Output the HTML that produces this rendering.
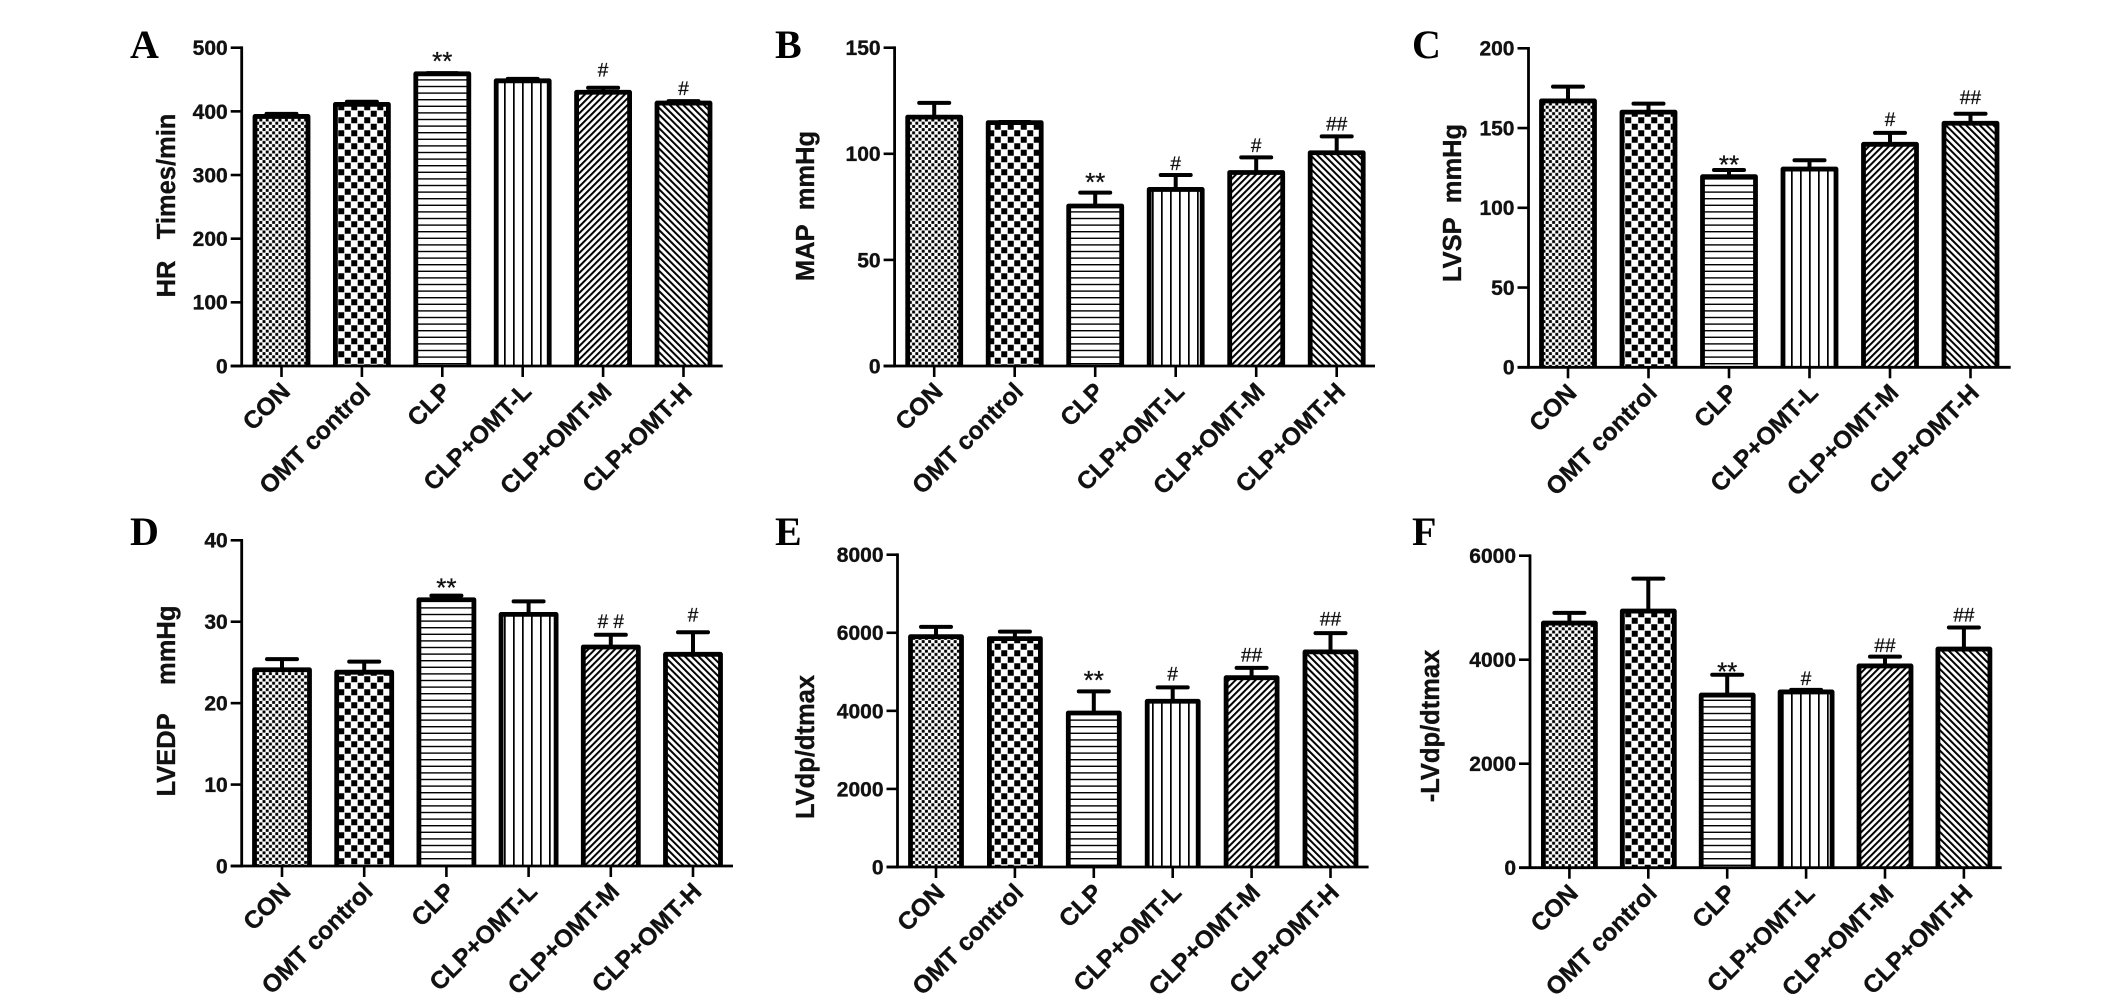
<!DOCTYPE html>
<html lang="en">
<head>
<meta charset="utf-8">
<title>Hemodynamic parameters panels A-F</title>
<style>
  html, body { margin: 0; padding: 0; background: #fff; }
  #figure { display: block; width: 2126px; height: 1008px; }
  .panel-letter { font-family: "Liberation Serif", serif; font-weight: bold; font-size: 40px; fill: #000; }
  .y-title { font-family: "Liberation Sans", sans-serif; font-weight: bold; font-size: 25.5px; fill: #111; stroke: #111; stroke-width: 0.35; text-anchor: middle; }
  .tick-label { font-family: "Liberation Sans", sans-serif; font-weight: bold; font-size: 21px; fill: #111; stroke: #111; stroke-width: 0.35; text-anchor: end; }
  .cat-label { font-family: "Liberation Sans", sans-serif; font-weight: bold; font-size: 24.6px; fill: #111; stroke: #111; stroke-width: 0.35; text-anchor: end; }
  .sig-hash { font-family: "Liberation Sans", sans-serif; font-size: 19px; fill: #111; stroke: #111; stroke-width: 0.3; text-anchor: middle; }
  .sig-star { font-family: "Liberation Sans", sans-serif; font-size: 26px; fill: #111; stroke: #111; stroke-width: 0.3; text-anchor: middle; }
</style>
</head>
<body>
<svg id="figure" xmlns="http://www.w3.org/2000/svg" width="2126" height="1008" viewBox="0 0 2126 1008">
  <rect width="2126" height="1008" fill="#fff"/>
  <defs>
    <pattern id="pat-0" patternUnits="userSpaceOnUse" width="6.4" height="6.4">
      <rect width="6.4" height="6.4" fill="#fff"/>
      <rect x="0.15" y="0.15" width="2.9" height="2.9" fill="#000"/>
      <rect x="3.35" y="3.35" width="2.9" height="2.9" fill="#000"/>
    </pattern>
    <pattern id="pat-1" patternUnits="userSpaceOnUse" width="13" height="13">
      <rect width="13" height="13" fill="#fff"/>
      <rect x="0.25" y="0.25" width="6" height="6" fill="#000"/>
      <rect x="6.75" y="6.75" width="6" height="6" fill="#000"/>
    </pattern>
    <pattern id="pat-2" patternUnits="userSpaceOnUse" width="10" height="6.6">
      <rect width="10" height="6.6" fill="#fff"/>
      <rect y="0" width="10" height="1.4" fill="#000"/>
    </pattern>
    <pattern id="pat-3" patternUnits="userSpaceOnUse" width="9" height="10">
      <rect width="9" height="10" fill="#fff"/>
      <rect x="0" width="1.7" height="10" fill="#000"/>
    </pattern>
    <pattern id="pat-4" patternUnits="userSpaceOnUse" width="4.7" height="10" patternTransform="rotate(45)">
      <rect width="4.7" height="10" fill="#fff"/>
      <rect width="2" height="10" fill="#000"/>
    </pattern>
    <pattern id="pat-5" patternUnits="userSpaceOnUse" width="4.8" height="10" patternTransform="rotate(-45)">
      <rect width="4.8" height="10" fill="#fff"/>
      <rect width="2" height="10" fill="#000"/>
    </pattern>
  </defs>

  <text class="panel-letter" x="130" y="58">A</text>
  <text class="panel-letter" x="775" y="58">B</text>
  <text class="panel-letter" x="1412" y="58">C</text>
  <text class="panel-letter" x="130" y="545">D</text>
  <text class="panel-letter" x="775" y="545">E</text>
  <text class="panel-letter" x="1412" y="545">F</text>

  <text class="y-title" transform="translate(175 205.5) rotate(-90)">HR&#160;&#160;&#160;Times/min</text>
  <text class="y-title" transform="translate(814 206) rotate(-90)">MAP&#160;&#160;mmHg</text>
  <text class="y-title" transform="translate(1461 203) rotate(-90)">LVSP&#160;&#160;mmHg</text>
  <text class="y-title" transform="translate(175 701) rotate(-90)">LVEDP&#160;&#160;&#160;&#160;mmHg</text>
  <text class="y-title" transform="translate(814 747) rotate(-90)">LVdp/dtmax</text>
  <text class="y-title" transform="translate(1439 726) rotate(-90)">-LVdp/dtmax</text>
</svg>

<script>
// ---- Data ----
const categories = ["CON", "OMT control", "CLP", "CLP+OMT-L", "CLP+OMT-M", "CLP+OMT-H"];

const hrTicks = ["0", "100", "200", "300", "400", "500"];
const hrValues = [392, 411, 459, 448, 430, 413];
const hrErrorTops = [396, 415, 460, 451, 437, 416];
const hrMarks = ["", "", "**", "", "#", "#"];
const hrMarkLevels = [0, 0, 485, 0, 465, 436];

const mapTicks = ["0", "50", "100", "150"];
const mapValues = [117.3, 114.7, 75.4, 83.2, 91.2, 100.5];
const mapErrorTops = [124, 115, 81.7, 90, 98.3, 108.2];
const mapMarks = ["", "", "**", "#", "#", "##"];
const mapMarkLevels = [0, 0, 88.7, 95.5, 103.8, 114];

const lvspTicks = ["0", "50", "100", "150", "200"];
const lvspValues = [167, 160, 119.5, 124.3, 139.8, 153];
const lvspErrorTops = [176, 165.3, 123.7, 129.8, 147, 159];
const lvspMarks = ["", "", "**", "", "#", "##"];
const lvspMarkLevels = [0, 0, 129.8, 0, 155.5, 169.3];

const lvedpTicks = ["0", "10", "20", "30", "40"];
const lvedpValues = [24.1, 23.8, 32.7, 30.9, 26.9, 26];
const lvedpErrorTops = [25.4, 25.1, 33.2, 32.5, 28.4, 28.7];
const lvedpMarks = ["", "", "**", "", "# #", "#"];
const lvedpMarkLevels = [0, 0, 34.7, 0, 30, 30.8];

const dpTicks = ["0", "2000", "4000", "6000", "8000"];
const dpValues = [5900, 5850, 3945, 4245, 4850, 5510];
const dpErrorTops = [6150, 6030, 4500, 4600, 5100, 5990];
const dpMarks = ["", "", "**", "#", "##", "##"];
const dpMarkLevels = [0, 0, 4897, 4949, 5436, 6350];

const negDpTicks = ["0", "2000", "4000", "6000"];
const negDpValues = [4705, 4935, 3320, 3380, 3880, 4205];
const negDpErrorTops = [4900, 5560, 3710, 3420, 4060, 4620];
const negDpMarks = ["", "", "**", "#", "##", "##"];
const negDpMarkLevels = [0, 0, 3853, 3641, 4269, 4859];

// ---- Panel frames (layout only) ----
const panels = [
  { key: "hr", ticks: hrTicks, values: hrValues, errs: hrErrorTops, marks: hrMarks, levels: hrMarkLevels,
    axisX: 241.7, zeroY: 366, topY: 47.7, endX: 722.7, firstX: 281.5, stepX: 80.4, barW: 53 },
  { key: "map", ticks: mapTicks, values: mapValues, errs: mapErrorTops, marks: mapMarks, levels: mapMarkLevels,
    axisX: 894.6, zeroY: 366, topY: 47.7, endX: 1375, firstX: 934.2, stepX: 80.5, barW: 53 },
  { key: "lvsp", ticks: lvspTicks, values: lvspValues, errs: lvspErrorTops, marks: lvspMarks, levels: lvspMarkLevels,
    axisX: 1528.5, zeroY: 367.3, topY: 48.3, endX: 2010.7, firstX: 1568, stepX: 80.5, barW: 53 },
  { key: "lvedp", ticks: lvedpTicks, values: lvedpValues, errs: lvedpErrorTops, marks: lvedpMarks, levels: lvedpMarkLevels,
    axisX: 241.7, zeroY: 866, topY: 540.3, endX: 733, firstX: 282, stepX: 82.2, barW: 55 },
  { key: "lvdp-dtmax", ticks: dpTicks, values: dpValues, errs: dpErrorTops, marks: dpMarks, levels: dpMarkLevels,
    axisX: 897.5, zeroY: 867, topY: 554.7, endX: 1368.6, firstX: 936, stepX: 78.9, barW: 51 },
  { key: "neg-lvdp-dtmax", ticks: negDpTicks, values: negDpValues, errs: negDpErrorTops, marks: negDpMarks, levels: negDpMarkLevels,
    axisX: 1530, zeroY: 867.7, topY: 555.7, endX: 2001.7, firstX: 1569.4, stepX: 78.9, barW: 52 }
];

const SVG_NS = "http://www.w3.org/2000/svg";
const figure = document.getElementById("figure");

function make(tag, attrs, parent) {
  const node = document.createElementNS(SVG_NS, tag);
  for (const k in attrs) node.setAttribute(k, attrs[k]);
  parent.appendChild(node);
  return node;
}

function slug(s) {
  return s.toLowerCase().replace(/[^a-z0-9]+/g, "-");
}

panels.forEach(function (p) {
  const maxTick = Number(p.ticks[p.ticks.length - 1]);
  const yScale = function (v) { return p.zeroY - (v / maxTick) * (p.zeroY - p.topY); };
  const xScale = function (i) { return p.firstX + i * p.stepX; };

  const group = make("g", {}, figure);
  
  

  // error bars (behind bars)
  p.values.forEach(function (v, i) {
    const cx = xScale(i);
    const yTop = yScale(p.errs[i]);
    const errGroup = make("g", {}, group);
    
    
    make("line", { x1: cx, x2: cx, y1: yScale(v), y2: yTop, stroke: "#000", "stroke-width": 4 }, errGroup);
    make("line", { x1: cx - 15, x2: cx + 15, y1: yTop, y2: yTop, stroke: "#000", "stroke-width": 4, "stroke-linecap": "round" }, errGroup);
  });

  // bars: patterned fill, then open outline with no bottom edge
  p.values.forEach(function (v, i) {
    const yTop = yScale(v);
    const left = xScale(i) - p.barW / 2;
    const right = left + p.barW;
    const barGroup = make("g", {}, group);
    
    
    make("rect", { x: left, y: yTop, width: p.barW, height: p.zeroY - yTop, fill: "url(#pat-" + i + ")" }, barGroup);
    make("path", {
      d: "M" + left + " " + p.zeroY + "V" + yTop + "H" + right + "V" + p.zeroY,
      fill: "none", stroke: "#000", "stroke-width": 4.8, "stroke-linejoin": "round"
    }, barGroup);
  });

  // y axis
  const yAxis = make("line", { x1: p.axisX, x2: p.axisX, y1: p.topY - 1.3, y2: p.zeroY + 1.3, stroke: "#000", "stroke-width": 2.8 }, group);
  
  

  p.ticks.forEach(function (label) {
    const ty = yScale(Number(label));
    const tick = make("line", { x1: p.axisX - 11, x2: p.axisX, y1: ty, y2: ty, stroke: "#000", "stroke-width": 2.6 }, group);
    
    
    const text = make("text", { class: "tick-label", x: p.axisX - 14, y: ty + 7.4 }, group);
    
    
    text.textContent = label;
  });

  // x axis
  const xAxis = make("line", { x1: p.axisX - 11, x2: p.endX, y1: p.zeroY, y2: p.zeroY, stroke: "#000", "stroke-width": 2.8 }, group);
  
  

  categories.forEach(function (name, i) {
    const cx = xScale(i);
    const tick = make("line", { x1: cx, x2: cx, y1: p.zeroY, y2: p.zeroY + 11, stroke: "#000", "stroke-width": 2.6 }, group);
    
    
    const ax = cx + 10;
    const ay = p.zeroY + 27;
    const text = make("text", { class: "cat-label", transform: "translate(" + ax + " " + ay + ") rotate(-45)" }, group);
    
    
    text.textContent = name;
  });

  // significance marks
  p.marks.forEach(function (mark, i) {
    if (!mark) return;
    const isStar = mark.indexOf("*") >= 0;
    const y = yScale(p.levels[i]) + (isStar ? 13 : 6.5);
    const text = make("text", { class: isStar ? "sig-star" : "sig-hash", x: xScale(i), y: y }, group);
    
    
    text.textContent = mark;
  });
});
</script>
</body>
</html>
